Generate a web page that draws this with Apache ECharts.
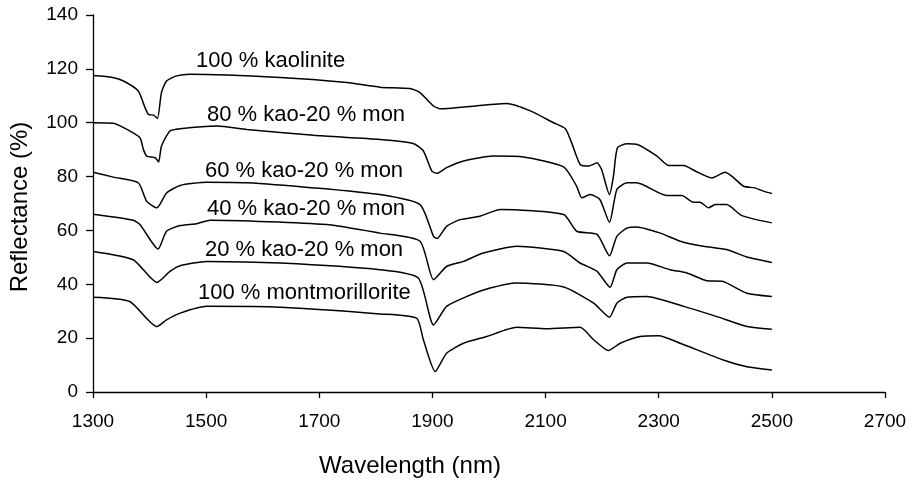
<!DOCTYPE html>
<html>
<head>
<meta charset="utf-8">
<script src="https://cdn.jsdelivr.net/npm/echarts@6/dist/echarts.min.js"></script>
<style>html,body{margin:0;padding:0;background:#fff}#c{width:914px;height:486px}</style>
</head>
<body>
<div id="c"></div>
<script>
const seriesNames = ['100 % kaolinite','80 % kao-20 % mon','60 % kao-20 % mon','40 % kao-20 % mon','20 % kao-20 % mon','100 % montmorillorite'];

const kao100 = [[1300,117.5],[1335,116.8],[1354,115.5],[1380,111.8],[1392,105.6],[1398,103.1],[1407,102.8],[1414,101.6],[1421,111.2],[1430,115.5],[1448,117.4],[1471,118],[1631,116.8],[1749,114.9],[1807,113.2],[1860,112.7],[1878,111.2],[1902,106.2],[1913,105.2],[2031,107.1],[2073,104.4],[2114,100],[2135,97.8],[2146,92.6],[2161,84.5],[2176,83.9],[2191,85.1],[2199,82.6],[2213,73.3],[2220,80.2],[2227,90.7],[2244,92.2],[2261,92],[2297,87.6],[2317,84.1],[2344,84.1],[2367,81.8],[2394,79.5],[2417,81.6],[2429,80.2],[2450,76.4],[2470,75.8],[2485,74.6],[2500,73.7]];

const kao80 = [[1300,100],[1336,99.8],[1360,97.5],[1383,94.4],[1389,90.1],[1395,87.6],[1410,87],[1416,85.4],[1421,91.3],[1436,96.9],[1454,97.8],[1519,98.8],[1572,97.5],[1690,95.3],[1807,93.8],[1866,92.3],[1884,89.5],[1899,82],[1908,81.2],[1925,83.3],[1955,85.8],[2008,87.6],[2061,87.3],[2132,83.6],[2155,76.4],[2164,72.1],[2179,73.3],[2196,71.5],[2213,63],[2226,75.2],[2244,77.7],[2261,77.7],[2314,73],[2341,73],[2361,70.5],[2373,70.5],[2388,68.4],[2400,69.6],[2420,69.6],[2447,65.5],[2500,62.8]];

const kao60 = [[1300,81.6],[1336,79.8],[1380,77.7],[1395,70.8],[1413,68.4],[1430,73.9],[1454,76.7],[1501,77.9],[1572,77.7],[1690,75.8],[1807,73.3],[1878,69.6],[1902,57.8],[1908,57],[1925,61.5],[1949,64],[1984,65.3],[2020,67.8],[2132,65.9],[2155,59.7],[2191,58.5],[2213,50.6],[2226,57.8],[2244,60.9],[2261,61.3],[2303,59],[2338,56],[2379,54.1],[2420,52.9],[2456,50.1],[2500,48.1]];

const kao40 = [[1300,66],[1371,63.8],[1383,62.2],[1415,53.1],[1430,59.7],[1454,61.8],[1483,62.5],[1507,63.8],[1713,62.2],[1807,59],[1878,56],[1902,41.7],[1925,46.6],[1955,48.5],[1990,51.6],[2049,54.1],[2132,52.2],[2161,47.9],[2191,44.8],[2214,38.9],[2226,45.4],[2244,47.9],[2279,47.9],[2320,45.4],[2350,44.2],[2385,41.3],[2412,41.1],[2456,36.7],[2500,35.5]];

const kao20 = [[1300,52.2],[1371,49.1],[1413,40.7],[1436,44.8],[1454,46.9],[1501,48.5],[1631,47.9],[1807,45.4],[1875,42.3],[1902,24.9],[1925,31.8],[1961,35.5],[2002,38.6],[2049,40.5],[2132,39],[2185,33],[2213,27.8],[2226,33],[2244,35.2],[2279,35.5],[2344,31.8],[2403,28],[2456,24.3],[2500,23.3]];

const mont100 = [[1300,35.2],[1365,33.6],[1413,24.3],[1430,26.8],[1454,29.3],[1501,31.8],[1631,31.5],[1807,29],[1872,27.4],[1884,19.4],[1905,7.6],[1925,14.4],[1955,18.1],[1996,20.6],[2049,24],[2102,23.5],[2161,24],[2185,19.4],[2211,15.4],[2232,18.1],[2267,20.6],[2300,20.9],[2338,18.1],[2414,11.9],[2456,9.4],[2500,8.2]];

const allData = [kao100, kao80, kao60, kao40, kao20, mont100];
const xTitle = 'Wavelength (nm)';
const yTitle = 'Reflectance (%)';

const FONT = '"Liberation Sans", Arial, sans-serif';
const labelPos = [[196,61],[207,114.5],[205,170.5],[207,208.5],[205,249.5],[198,293]];

const chart = echarts.init(document.getElementById('c'), null, {renderer:'canvas'});
chart.setOption({
  animation:false,
  backgroundColor:'#fff',
  grid:{left:93,right:29,top:15,bottom:94,containLabel:false},
  xAxis:{type:'value',min:1300,max:2700,interval:200,
    axisLine:{lineStyle:{color:'#000',width:1.3}},
    axisTick:{length:6,lineStyle:{color:'#000',width:1.3}},
    axisLabel:{color:'#000',fontSize:19,fontFamily:FONT,margin:20,formatter:v=>String(v)},
    splitLine:{show:false}},
  yAxis:{type:'value',min:0,max:140,interval:20,
    axisLine:{show:true,lineStyle:{color:'#000',width:1.3}},
    axisTick:{show:true,length:7,lineStyle:{color:'#000',width:1.3}},
    axisLabel:{color:'#000',fontSize:19,fontFamily:FONT,margin:15,formatter:v=>String(v)},
    splitLine:{show:false}},
  series: allData.map((d,i)=>({
    name:seriesNames[i],type:'line',data:d,showSymbol:false,symbol:'none',
    lineStyle:{color:'#000',width:1.5},smooth:0.2
  })),
  graphic:[
    {type:'text',x:410,y:466,style:{text:xTitle,font:'24px '+FONT,fill:'#000',textAlign:'center',textVerticalAlign:'middle'}},
    {type:'text',x:20,y:207,rotation:Math.PI/2,style:{text:yTitle,font:'24px '+FONT,fill:'#000',textAlign:'center',textVerticalAlign:'middle'}}
  ].concat(seriesNames.map((n,i)=>({type:'text',x:labelPos[i][0],y:labelPos[i][1],
    style:{text:n,font:'22px '+FONT,fill:'#000',textAlign:'left',textVerticalAlign:'middle'}})))
});
</script>
</body>
</html>
